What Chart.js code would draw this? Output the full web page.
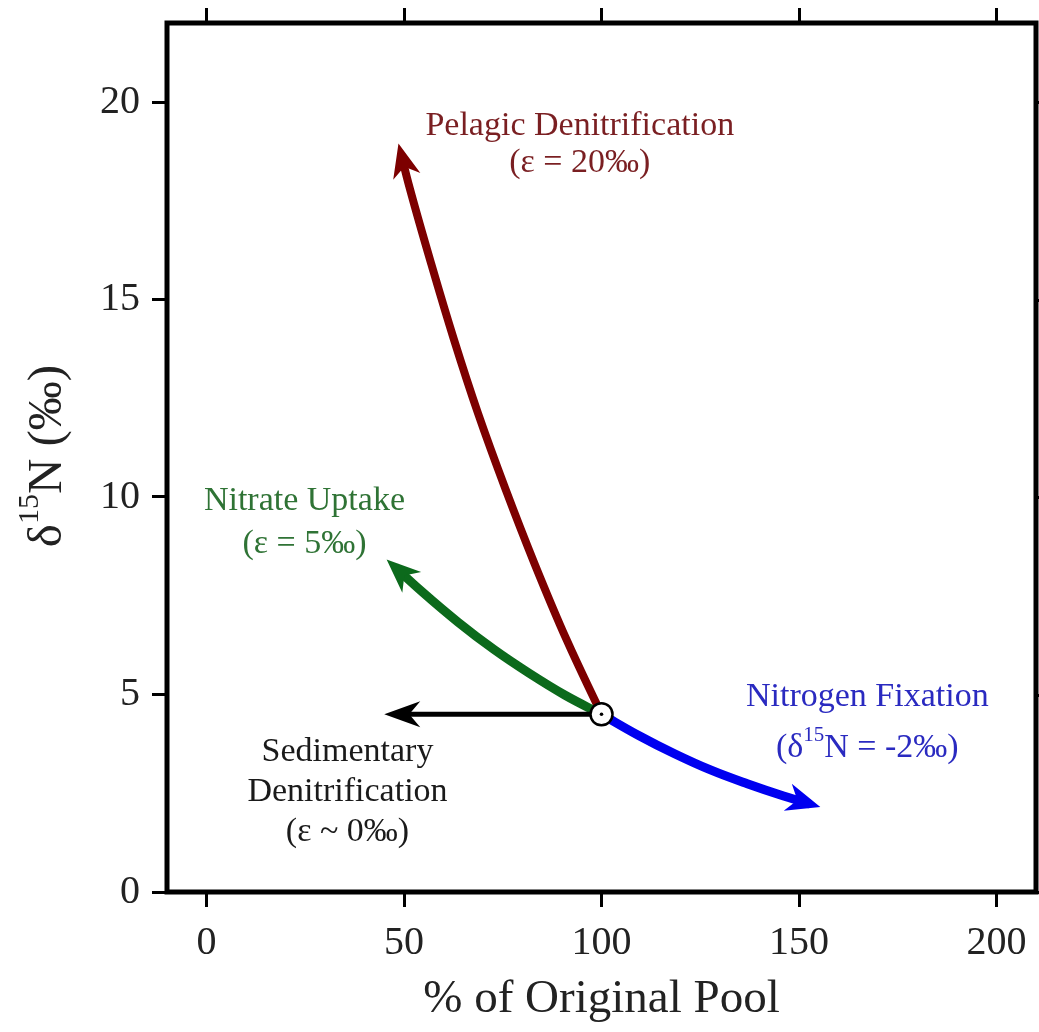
<!DOCTYPE html>
<html>
<head>
<meta charset="utf-8">
<script src="https://cdn.jsdelivr.net/npm/chart.js@4/dist/chart.umd.min.js"></script>
<style>
  html, body { margin: 0; padding: 0; background: #fff; }
  #wrap { width: 1039px; height: 1032px; }
</style>
</head>
<body>
<div id="wrap"><canvas id="chart" width="1039" height="1032"></canvas></div>
<script>
// pool size (% of original) and d15N (permil) along each process path
var pelagicPool = [100, 91.1, 83.1, 75.7, 68.8, 62.6, 56.9, 51.5, 48.6];
var pelagicD15N = [4.5, 6.4, 8.3, 10.2, 12.1, 14.0, 15.9, 17.8, 18.95];
var uptakePool = [100, 90.8, 81.8, 72.75, 63.7, 54.7, 45.6];
var uptakeD15N = [4.5, 4.98, 5.53, 6.14, 6.83, 7.59, 8.42];
var fixationPool = [100, 109.3, 118.5, 127.6, 136.9, 146.1, 155.4];
var fixationD15N = [4.5, 3.97, 3.5, 3.09, 2.74, 2.43, 2.15];
var sedimentPool = [100, 45];
var sedimentD15N = [4.5, 4.5];
var startPool = [100];
var startD15N = [4.5];

var xTicks = [0, 50, 100, 150, 200];
var yTicks = [0, 5, 10, 15, 20];

// process labels: anchor (pool, d15N) of first line, lines made of [text, superscript?]
var labelPool = [94.5, 24.8, 167.3, 35.7];
var labelD15N = [19.4, 9.89, 4.94, 3.55];
var labelLines = [
  [[['Pelagic Denitrification', false]], [['(ε = 20‰)', false]]],
  [[['Nitrate Uptake', false]], [['(ε = 5‰)', false]]],
  [[['Nitrogen Fixation', false]], [['(δ', false], ['15', true], ['N = -2‰)', false]]],
  [[['Sedimentary', false]], [['Denitrification', false]], [['(ε ~ 0‰)', false]]]
];
var labelColors = ['#7a1f22', '#2f7335', '#2a2ac0', '#1a1a1a'];
var labelGaps = [37, 43, 51, 40];

var serif = '"Liberation Serif", "Times New Roman", serif';

function pts(xs, ys) {
  return xs.map(function(x, i) { return { x: x, y: ys[i] }; });
}

function fixedTicks(values) {
  return function(scale) {
    scale.ticks = values.map(function(v) { return { value: v }; });
  };
}

// fixed axis box size, no extra label padding around the plot area
function boxSize(w, h) {
  return function(s) {
    if (w !== null) s.width = w;
    if (h !== null) s.height = h;
    s.paddingLeft = s.paddingRight = s.paddingTop = s.paddingBottom = 0;
  };
}

function drawRich(ctx, segs, cx, cy, size, color) {
  var parts = segs.map(function(s) {
    var f = (s[1] ? Math.round(size * 0.62) : size) + 'px ' + serif;
    ctx.font = f;
    return { t: s[0], sup: s[1], w: ctx.measureText(s[0]).width, f: f };
  });
  var total = parts.reduce(function(a, p) { return a + p.w; }, 0);
  var x = cx - total / 2;
  ctx.fillStyle = color;
  ctx.textAlign = 'left';
  ctx.textBaseline = 'middle';
  parts.forEach(function(p) {
    ctx.font = p.f;
    ctx.fillText(p.t, x, p.sup ? cy - size * 0.36 : cy);
    x += p.w;
  });
}

// arrowheads on the far end of each path; the line is clipped just behind the tip
var arrowPlugin = {
  id: 'arrows',
  beforeDatasetDraw: function(chart, args) {
    var ds = chart.data.datasets[args.index];
    if (!ds.arrow) return;
    var p = args.meta.data, tip = p[p.length - 1];
    var ctx = chart.ctx, a = chart.chartArea;
    ctx.save();
    ctx.beginPath();
    ctx.rect(a.left, a.top, a.width, a.height);
    ctx.arc(tip.x, tip.y, 12, 0, Math.PI * 2);
    ctx.clip('evenodd');
  },
  afterDatasetDraw: function(chart, args) {
    var ds = chart.data.datasets[args.index];
    if (!ds.arrow) return;
    var ctx = chart.ctx;
    ctx.restore();
    var p = args.meta.data, tip = p[p.length - 1], prev = p[p.length - 2];
    var dx = tip.x - prev.x, dy = tip.y - prev.y, len = Math.hypot(dx, dy);
    var ux = dx / len, uy = dy / len, nx = -uy, ny = ux;
    var L = ds.arrow.length, W = ds.arrow.width, N = ds.arrow.notch;
    ctx.save();
    ctx.fillStyle = ds.borderColor;
    ctx.beginPath();
    ctx.moveTo(tip.x, tip.y);
    ctx.lineTo(tip.x - L * ux + W * nx, tip.y - L * uy + W * ny);
    ctx.lineTo(tip.x - (L - N) * ux, tip.y - (L - N) * uy);
    ctx.lineTo(tip.x - L * ux - W * nx, tip.y - L * uy - W * ny);
    ctx.closePath();
    ctx.fill();
    ctx.restore();
  }
};

// box frame, right-hand ticks, axis titles and process labels
var framePlugin = {
  id: 'frame',
  afterDraw: function(chart) {
    var ctx = chart.ctx, a = chart.chartArea;
    var sx = chart.scales.x, sy = chart.scales.y;
    ctx.save();
    ctx.strokeStyle = '#000';
    ctx.lineWidth = 3;
    ctx.beginPath();
    yTicks.forEach(function(v) {
      var py = Math.round(sy.getPixelForValue(v)) + 0.5;
      ctx.moveTo(a.right, py);
      ctx.lineTo(a.right + 15, py);
    });
    ctx.stroke();
    ctx.lineWidth = 5;
    ctx.strokeRect(a.left, a.top, a.right - a.left, a.bottom - a.top);

    ctx.fillStyle = '#222';
    ctx.font = '47px ' + serif;
    ctx.textAlign = 'center';
    ctx.textBaseline = 'middle';
    ctx.fillText('% of Original Pool', (a.left + a.right) / 2, 1000);

    ctx.save();
    ctx.translate(48, 456);
    ctx.rotate(-Math.PI / 2);
    drawRich(ctx, [['δ', false], ['15', true], ['N (‰)', false]], 0, 0, 49, '#222');
    ctx.restore();

    labelLines.forEach(function(lines, i) {
      var cx = sx.getPixelForValue(labelPool[i]);
      var cy = sy.getPixelForValue(labelD15N[i]);
      lines.forEach(function(segs, j) {
        drawRich(ctx, segs, cx, cy + j * labelGaps[i], 34, labelColors[i]);
      });
    });
    ctx.restore();
  }
};

var tickFont = { family: serif, size: 40 };
var tickGrid = { drawOnChartArea: false, drawTicks: true, tickLength: 15, tickWidth: 3, color: '#000', tickColor: '#000' };

new Chart(document.getElementById('chart'), {
  type: 'scatter',
  data: {
    datasets: [
      { data: pts(startPool, startD15N), pointRadius: 1.8, pointBackgroundColor: '#000', pointBorderWidth: 0, showLine: false },
      { data: pts(startPool, startD15N), pointRadius: 11, pointBackgroundColor: '#fff', pointBorderColor: '#000', pointBorderWidth: 2.5, showLine: false },
      { data: pts(sedimentPool, sedimentD15N), borderColor: '#000', borderWidth: 5, showLine: true, pointRadius: 0,
        arrow: { length: 36, width: 13, notch: 11 } },
      { data: pts(fixationPool, fixationD15N), borderColor: '#0000f0', borderWidth: 9, showLine: true, pointRadius: 0, tension: 0.4,
        arrow: { length: 34, width: 14, notch: 10 } },
      { data: pts(uptakePool, uptakeD15N), borderColor: '#0c6a1c', borderWidth: 9, showLine: true, pointRadius: 0, tension: 0.4,
        arrow: { length: 34, width: 14, notch: 10 } },
      { data: pts(pelagicPool, pelagicD15N), borderColor: '#7d0000', borderWidth: 8, showLine: true, pointRadius: 0, tension: 0.4,
        arrow: { length: 34, width: 14, notch: 10 } }
    ]
  },
  options: {
    responsive: false,
    animation: false,
    layout: { autoPadding: false, padding: { left: 0, top: 0, bottom: 0, right: 3 } },
    plugins: { legend: { display: false }, tooltip: { enabled: false } },
    scales: {
      x: {
        type: 'linear', position: 'bottom', min: -10, max: 210,
        afterBuildTicks: fixedTicks(xTicks),
        afterFit: boxSize(null, 140),
        ticks: { font: tickFont, color: '#222', padding: 12 },
        grid: tickGrid,
        border: { display: false }
      },
      x2: {
        type: 'linear', position: 'top', min: -10, max: 210,
        afterBuildTicks: fixedTicks(xTicks),
        afterFit: boxSize(null, 23),
        ticks: { display: false },
        grid: tickGrid,
        border: { display: false }
      },
      y: {
        type: 'linear', position: 'left', min: 0, max: 22,
        afterBuildTicks: fixedTicks(yTicks),
        afterFit: boxSize(167, null),
        ticks: { font: tickFont, color: '#222', padding: 12 },
        grid: tickGrid,
        border: { display: false }
      }
    }
  },
  plugins: [arrowPlugin, framePlugin]
});
</script>
</body>
</html>
